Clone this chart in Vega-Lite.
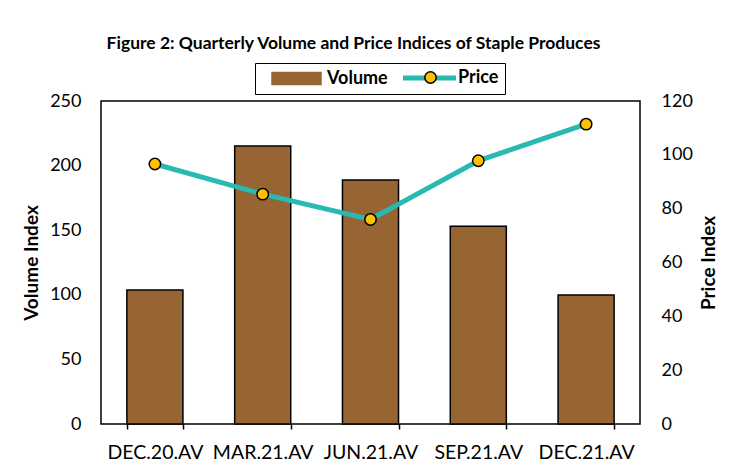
{
  "$schema": "https://vega.github.io/schema/vega-lite/v6.json",
  "width": 539,
  "height": 323,
  "autosize": {"type": "none"},
  "padding": {"left": 101, "top": 101, "right": 94, "bottom": 46},
  "background": "white",
  "config": {
    "font": "Lato",
    "view": {"stroke": "black", "strokeWidth": 1.5},
    "axis": {
      "labelFont": "Lato",
      "labelFontSize": 18,
      "labelColor": "black",
      "titleFont": "Lato",
      "titleFontSize": 19,
      "titleFontWeight": "bold",
      "titleColor": "black",
      "grid": false,
      "domain": false,
      "ticks": false
    }
  },
  "title": {
    "text": "Figure 2: Quarterly Volume and Price Indices of Staple Produces",
    "font": "Lato",
    "fontSize": 17.5,
    "fontWeight": "bold",
    "color": "black",
    "anchor": "middle",
    "dx": -17,
    "offset": 10
  },
  "data": {
    "values": [
      {"quarter": "DEC.20.AV", "volume": 103.7, "price": 96.6},
      {"quarter": "MAR.21.AV", "volume": 215.2, "price": 85.4},
      {"quarter": "JUN.21.AV", "volume": 188.9, "price": 76.0},
      {"quarter": "SEP.21.AV", "volume": 153.0, "price": 97.8},
      {"quarter": "DEC.21.AV", "volume": 99.8, "price": 111.4}
    ]
  },
  "encoding": {
    "x": {
      "field": "quarter",
      "type": "nominal",
      "sort": null,
      "scale": {"paddingInner": 0.48, "paddingOuter": 0.24},
      "axis": {
        "title": null,
        "labelAngle": 0,
        "labelFontSize": 19.5,
        "ticks": true,
        "tickBand": "extent",
        "tickSize": 5,
        "tickColor": "black",
        "tickWidth": 1.5,
        "labelPadding": 14
      }
    }
  },
  "layer": [
    {
      "mark": {"type": "bar", "stroke": "black", "strokeWidth": 1.5},
      "encoding": {
        "y": {
          "field": "volume",
          "type": "quantitative",
          "scale": {"domain": [0, 250]},
          "axis": {
            "title": "Volume Index",
            "values": [0, 50, 100, 150, 200, 250],
            "labelPadding": 20,
            "titlePadding": 8
          }
        },
        "color": {
          "datum": "Volume",
          "scale": {"domain": ["Volume", "Price"], "range": ["#976434", "#28B9B3"]},
          "legend": {
            "title": null,
            "orient": "none",
            "legendX": 154,
            "legendY": -38,
            "direction": "horizontal",
            "strokeColor": "black",
            "padding": 6,
            "labelFont": "Lato",
            "labelFontSize": 18,
            "labelFontWeight": "bold",
            "labelColor": "black",
            "labelExpr": "datum.label === 'Price' ? 'Price\u00a0\u00a0\u00a0' : datum.label",
            "symbolSize": 196,
            "labelOffset": 48,
            "columnPadding": 4,
            "symbolOpacity": 1,
            "symbolType": {"expr": "datum.value === 'Volume' ? 'M0.286,-0.857H7.286V0.857H0.286Z' : 'M0.286,0H7.857'"},
            "symbolStrokeColor": {"expr": "datum.value === 'Volume' ? 'black' : '#28B9B3'"},
            "symbolStrokeWidth": {"expr": "datum.value === 'Volume' ? 1.5 : 5"}
          }
        }
      }
    },
    {
      "encoding": {
        "y": {
          "field": "price",
          "type": "quantitative",
          "scale": {"domain": [0, 120]},
          "axis": {
            "orient": "right",
            "title": "Price Index",
            "values": [0, 20, 40, 60, 80, 100, 120],
            "labelPadding": 21,
            "titlePadding": 26,
            "titleAngle": 270
          }
        }
      },
      "layer": [
        {
          "mark": {"type": "line", "strokeWidth": 5},
          "encoding": {"color": {"datum": "Price", "legend": null}}
        },
        {
          "mark": {"type": "point", "filled": true, "size": 130, "stroke": "black", "strokeWidth": 1.5, "opacity": 1},
          "encoding": {
            "fill": {
              "datum": "Price",
              "scale": {"domain": ["Price"], "range": ["#FFC000"]},
              "legend": {
                "title": null,
                "orient": "none",
                "legendX": 323,
                "legendY": -30,
                "padding": 0,
                "symbolType": "circle",
                "symbolSize": 130,
                "symbolStrokeColor": "black",
                "symbolStrokeWidth": 1.5,
                "symbolOpacity": 1,
                "labelExpr": "''",
                "labelFontSize": 1
              }
            }
          }
        }
      ]
    }
  ],
  "resolve": {"scale": {"y": "independent"}}
}
